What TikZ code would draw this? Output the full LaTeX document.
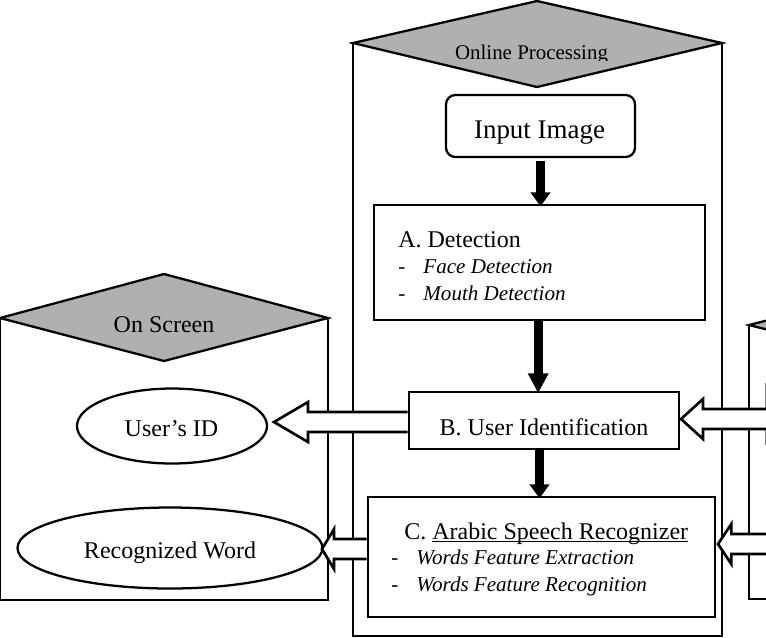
\documentclass[tikz,border=0pt]{standalone}
\usepackage{fontspec}
\setmainfont{Liberation Serif}
\usetikzlibrary{shapes.geometric,arrows.meta,calc}
\definecolor{headgray}{gray}{0.69}
\tikzset{
    panel/.style={draw, line width=1.7pt},
    head/.style={draw, line width=1.7pt, fill=headgray, line join=miter},
    stage/.style={draw, line width=2pt, inner sep=0pt},
    result/.style={draw, ellipse, line width=1.7pt, inner sep=0pt},
    label/.style={inner sep=0pt, anchor=base, font=\fontsize{18}{20}\selectfont},
    titlelabel/.style={label, anchor=base west},
    itemlabel/.style={inner sep=0pt, anchor=base west, font=\fontsize{15.8}{18}\selectfont},
    whitearrow/.style={draw, fill=white, line width=2pt, line join=miter},
    blackarrow/.style={line width=7pt, shorten >=-2pt,
        -{Triangle[length=#1,width=14.5pt]}},
    blackarrow/.default=10.5pt
}
\newcommand{\bigarrow}[3]{% from, tip, head length
    \draw[whitearrow] let \p1=(#1), \p2=(#2) in
        (\x1,\y2-7.5pt) -- (\x2+#3,\y2-7.5pt) -- (\x2+#3,\y2-15pt) -- (\p2)
        -- (\x2+#3,\y2+15pt) -- (\x2+#3,\y2+7.5pt) -- (\x1,\y2+7.5pt);
}
\begin{document}
\begin{tikzpicture}[x=0.75pt,y=-0.75pt]
    \useasboundingbox (0,0) rectangle (766,637);
    \begin{scope}
        \clip (0,0) rectangle (766,637);
        % on screen panel
        \draw[panel] (0,318) -- (0,600) -- (328,600) -- (328,318);
        \draw[head] (0,318) -- (164,274) -- (328,318) -- (164,361) -- cycle;
        % online panel
        \draw[panel] (353,43) -- (353,636) -- (722,636) -- (722,43);
        \draw[head] (353,43) -- (537,1) -- (722,43) -- (537,87) -- cycle;
        % panel on the right, cut by the page
        \draw[panel] (780,599) -- (749,599) -- (749,325);
        \draw[head] (749,325) -- (800,312) -- (850,325) -- (800,338) -- cycle;
        \draw[line width=1pt, gray] (765.5,383) -- (765.5,445);
    \end{scope}
    \begin{scope}
        \clip (400,30) rectangle (650,60);
        \node[label, font=\fontsize{15.7}{18}\selectfont] (online) at (531.5,59) {Online Processing};
    \end{scope}
    \node[label] (screen) at (164,332) {On Screen};
    \node[draw, rounded corners=7pt, line width=1.7pt, minimum width=189*0.75pt, minimum height=62*0.75pt] (input) at (540.5,126) {};
    \node[label, font=\fontsize{20.2}{22}\selectfont] (inputtext) at (539.5,138.5) {Input Image};
    \node[stage, minimum width=331*0.75pt, minimum height=115*0.75pt] (detect) at (539.5,262.5) {};
    \node[titlelabel] (detecttitle) at (398,247) {A. Detection};
    \node[itemlabel] (face) at (398,273) {-\hspace{13.6pt}\textit{Face Detection}};
    \node[itemlabel] (mouth) at (398,300) {-\hspace{13.6pt}\textit{Mouth Detection}};
    \node[stage, minimum width=270*0.75pt, minimum height=57*0.75pt] (user) at (544,420.5) {};
    \node[label] (usertext) at (544,435) {B. User Identification};
    \node[stage, minimum width=347*0.75pt, minimum height=120*0.75pt] (speech) at (541.5,557) {};
    \node[titlelabel] (speechtitle) at (404,539) {C. \underline{\smash{Arabic Speech Recognizer}}};
    \node[itemlabel] (extract) at (391,564) {-\hspace{13.6pt}\textit{Words Feature Extraction}};
    \node[itemlabel] (recog) at (391,591) {-\hspace{13.6pt}\textit{Words Feature Recognition}};
    \node[result, minimum width=190*0.75pt, minimum height=75*0.75pt] (id) at (172,426) {};
    \node[label] (idtext) at (171.5,436) {User's ID};
    \node[result, minimum width=305*0.75pt, minimum height=81*0.75pt] (word) at (170,548) {};
    \node[label] (wordtext) at (170,558) {Recognized Word};
    \coordinate (idtip) at (274,422);
    \coordinate (wordtip) at (322,549);
    \coordinate (usertip) at (681,419);
    \coordinate (speechtip) at (718,544);
    \coordinate (rightedge) at (770,480);
    % arrows
    \draw[blackarrow] ([yshift=-2pt]input.south) -- (input.south |- detect.north);
    \draw[blackarrow=15pt] ([xshift=-1pt]detect.south) -- ([xshift=-1pt]detect.south |- user.north);
    \draw[blackarrow] (detect.south |- user.south) -- (detect.south |- speech.north);
    \bigarrow{user.west}{idtip}{25.5pt}
    \bigarrow{speech.west}{wordtip}{9pt}
    \bigarrow{rightedge}{usertip}{16.5pt}
    \bigarrow{rightedge}{speechtip}{10pt}
\end{tikzpicture}
\end{document}
